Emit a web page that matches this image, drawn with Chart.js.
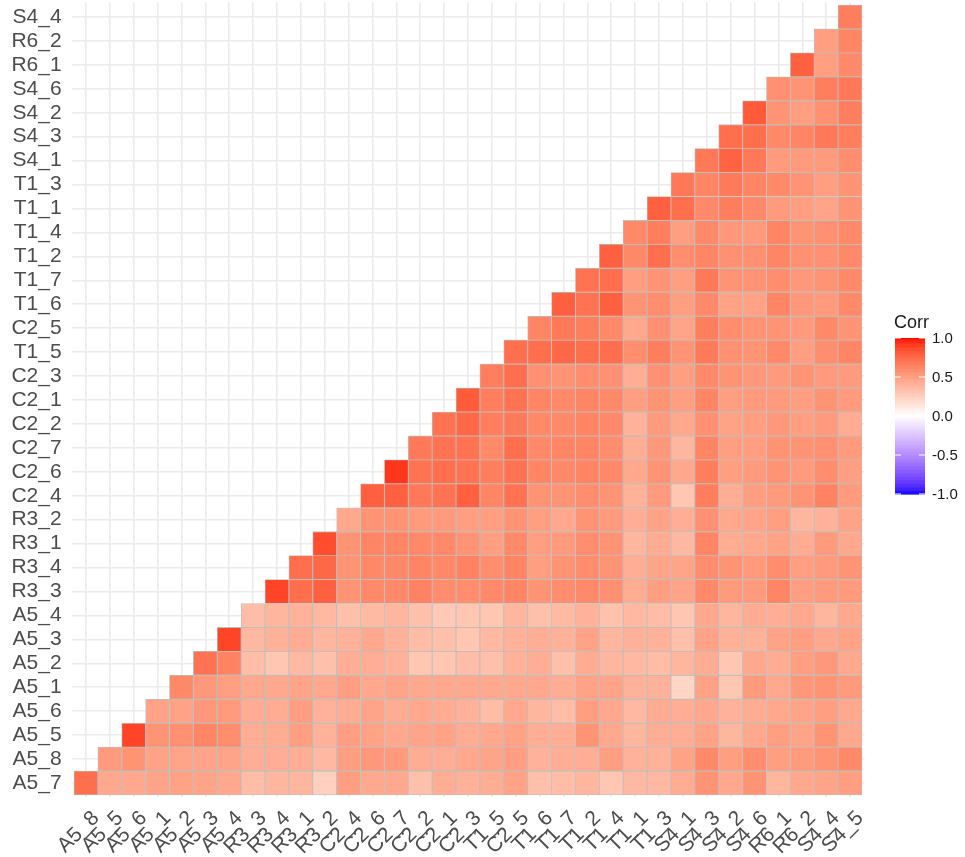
<!DOCTYPE html>
<html>
<head>
<meta charset="utf-8">
<script src="https://cdn.jsdelivr.net/npm/chart.js@4.4.1/dist/chart.umd.min.js"></script>
<style>
  html, body { margin: 0; padding: 0; background: #fff; }
  #wrap { width: 965px; height: 857px; }
</style>
</head>
<body>
<div id="wrap"><canvas id="corr" width="965" height="857"></canvas></div>
<script>
// variable order as plotted (bottom-to-top on y, left-to-right on x)
const vars = ['A5_7', 'A5_8', 'A5_5', 'A5_6', 'A5_1', 'A5_2', 'A5_3', 'A5_4',
  'R3_3', 'R3_4', 'R3_1', 'R3_2', 'C2_4', 'C2_6', 'C2_7', 'C2_2', 'C2_1', 'C2_3',
  'T1_5', 'C2_5', 'T1_6', 'T1_7', 'T1_2', 'T1_4', 'T1_1', 'T1_3',
  'S4_1', 'S4_3', 'S4_2', 'S4_6', 'R6_1', 'R6_2', 'S4_4', 'S4_5'];
const xLabels = vars.slice(1);
const yLabels = vars.slice(0, 33);

// lower triangle: corr[i] holds r(vars[i], vars[j]) for j = i+1 .. 33
const corr = [
  [0.72, 0.45, 0.45, 0.47, 0.48, 0.47, 0.45, 0.35, 0.38, 0.38, 0.25, 0.50, 0.45, 0.45, 0.33, 0.42, 0.40, 0.42, 0.48, 0.33, 0.35, 0.38, 0.30, 0.37, 0.37, 0.43, 0.55, 0.45, 0.55, 0.38, 0.45, 0.47, 0.50],
  [0.52, 0.55, 0.48, 0.47, 0.47, 0.47, 0.42, 0.42, 0.42, 0.37, 0.50, 0.53, 0.52, 0.43, 0.42, 0.45, 0.47, 0.50, 0.40, 0.42, 0.42, 0.50, 0.40, 0.40, 0.48, 0.60, 0.50, 0.58, 0.50, 0.52, 0.55, 0.60],
  [0.88, 0.55, 0.57, 0.62, 0.58, 0.42, 0.43, 0.50, 0.40, 0.50, 0.48, 0.45, 0.47, 0.48, 0.43, 0.45, 0.48, 0.42, 0.42, 0.55, 0.45, 0.38, 0.42, 0.42, 0.48, 0.38, 0.45, 0.50, 0.47, 0.55, 0.45],
  [0.48, 0.48, 0.53, 0.52, 0.43, 0.43, 0.50, 0.40, 0.43, 0.47, 0.43, 0.45, 0.43, 0.40, 0.35, 0.45, 0.38, 0.35, 0.50, 0.45, 0.37, 0.43, 0.42, 0.45, 0.40, 0.43, 0.45, 0.47, 0.50, 0.45],
  [0.60, 0.53, 0.50, 0.45, 0.45, 0.47, 0.45, 0.50, 0.45, 0.47, 0.45, 0.45, 0.45, 0.45, 0.45, 0.45, 0.43, 0.48, 0.47, 0.40, 0.40, 0.22, 0.48, 0.30, 0.52, 0.45, 0.53, 0.55, 0.52],
  [0.70, 0.63, 0.35, 0.30, 0.37, 0.33, 0.42, 0.42, 0.40, 0.30, 0.30, 0.35, 0.33, 0.40, 0.42, 0.33, 0.43, 0.38, 0.37, 0.35, 0.38, 0.43, 0.30, 0.45, 0.43, 0.50, 0.53, 0.45],
  [0.88, 0.37, 0.40, 0.43, 0.38, 0.40, 0.45, 0.40, 0.35, 0.33, 0.30, 0.37, 0.40, 0.42, 0.40, 0.48, 0.38, 0.40, 0.40, 0.33, 0.48, 0.40, 0.40, 0.48, 0.50, 0.45, 0.48],
  [0.35, 0.38, 0.40, 0.37, 0.33, 0.36, 0.38, 0.33, 0.28, 0.30, 0.30, 0.38, 0.33, 0.36, 0.40, 0.32, 0.37, 0.35, 0.30, 0.45, 0.38, 0.43, 0.42, 0.45, 0.38, 0.45],
  [0.88, 0.72, 0.78, 0.55, 0.60, 0.60, 0.63, 0.58, 0.58, 0.60, 0.62, 0.55, 0.58, 0.60, 0.57, 0.43, 0.50, 0.47, 0.60, 0.52, 0.52, 0.62, 0.50, 0.52, 0.52],
  [0.72, 0.75, 0.55, 0.60, 0.60, 0.62, 0.60, 0.63, 0.58, 0.62, 0.50, 0.55, 0.58, 0.55, 0.42, 0.47, 0.47, 0.58, 0.55, 0.52, 0.58, 0.50, 0.52, 0.55],
  [0.85, 0.55, 0.62, 0.62, 0.60, 0.60, 0.55, 0.50, 0.60, 0.50, 0.52, 0.58, 0.55, 0.38, 0.43, 0.37, 0.62, 0.43, 0.45, 0.48, 0.43, 0.52, 0.45],
  [0.45, 0.55, 0.55, 0.52, 0.52, 0.50, 0.50, 0.55, 0.50, 0.45, 0.55, 0.52, 0.42, 0.48, 0.42, 0.57, 0.45, 0.47, 0.50, 0.38, 0.40, 0.48],
  [0.78, 0.78, 0.68, 0.70, 0.78, 0.62, 0.70, 0.55, 0.55, 0.58, 0.55, 0.40, 0.52, 0.30, 0.65, 0.42, 0.50, 0.52, 0.55, 0.63, 0.52],
  [0.92, 0.70, 0.72, 0.70, 0.65, 0.70, 0.62, 0.60, 0.62, 0.60, 0.45, 0.55, 0.45, 0.65, 0.50, 0.52, 0.55, 0.52, 0.58, 0.50],
  [0.68, 0.70, 0.70, 0.60, 0.72, 0.60, 0.62, 0.62, 0.58, 0.42, 0.53, 0.38, 0.62, 0.50, 0.50, 0.55, 0.55, 0.57, 0.52],
  [0.70, 0.75, 0.65, 0.67, 0.60, 0.60, 0.62, 0.60, 0.40, 0.52, 0.45, 0.57, 0.48, 0.50, 0.53, 0.50, 0.52, 0.43],
  [0.80, 0.65, 0.70, 0.62, 0.60, 0.62, 0.60, 0.50, 0.55, 0.50, 0.62, 0.50, 0.52, 0.52, 0.50, 0.55, 0.52],
  [0.65, 0.72, 0.57, 0.55, 0.58, 0.57, 0.42, 0.57, 0.50, 0.60, 0.55, 0.53, 0.52, 0.55, 0.52, 0.52],
  [0.72, 0.72, 0.75, 0.72, 0.72, 0.58, 0.65, 0.55, 0.67, 0.57, 0.55, 0.60, 0.50, 0.58, 0.62],
  [0.62, 0.68, 0.65, 0.60, 0.45, 0.57, 0.47, 0.65, 0.58, 0.55, 0.55, 0.52, 0.60, 0.55],
  [0.78, 0.70, 0.78, 0.55, 0.58, 0.50, 0.60, 0.48, 0.48, 0.62, 0.53, 0.52, 0.60],
  [0.70, 0.72, 0.50, 0.55, 0.50, 0.68, 0.55, 0.55, 0.58, 0.53, 0.55, 0.60],
  [0.78, 0.60, 0.72, 0.58, 0.62, 0.57, 0.57, 0.62, 0.57, 0.57, 0.60],
  [0.60, 0.65, 0.50, 0.60, 0.53, 0.52, 0.62, 0.55, 0.57, 0.60],
  [0.78, 0.72, 0.60, 0.65, 0.60, 0.52, 0.50, 0.47, 0.55],
  [0.68, 0.62, 0.67, 0.62, 0.60, 0.55, 0.50, 0.55],
  [0.68, 0.77, 0.68, 0.52, 0.52, 0.52, 0.58],
  [0.72, 0.72, 0.60, 0.62, 0.68, 0.65],
  [0.80, 0.55, 0.50, 0.57, 0.65],
  [0.57, 0.55, 0.65, 0.68],
  [0.78, 0.50, 0.60],
  [0.50, 0.62],
  [0.65]
];
const legendTicks = [1, 0.5, 0, -0.5, -1];

// blue - white - red gradient, interpolated in Lab like ggplot's scale_fill_gradient2
function toLin(c) { c /= 255; return c <= 0.04045 ? c / 12.92 : Math.pow((c + 0.055) / 1.055, 2.4); }
function toByte(c) {
  c = c <= 0.0031308 ? 12.92 * c : 1.055 * Math.pow(c, 1 / 2.4) - 0.055;
  return Math.round(Math.min(1, Math.max(0, c)) * 255);
}
function rgbToLab(rgb) {
  const [r, g, b] = rgb.map(toLin);
  const x = (0.4124 * r + 0.3576 * g + 0.1805 * b) / 0.95047;
  const y = 0.2126 * r + 0.7152 * g + 0.0722 * b;
  const z = (0.0193 * r + 0.1192 * g + 0.9505 * b) / 1.08883;
  const f = t => t > 0.008856 ? Math.cbrt(t) : 7.787 * t + 16 / 116;
  return [116 * f(y) - 16, 500 * (f(x) - f(y)), 200 * (f(y) - f(z))];
}
function labToCss([L, a, bb]) {
  const fy = (L + 16) / 116, fx = fy + a / 500, fz = fy - bb / 200;
  const inv = t => t * t * t > 0.008856 ? t * t * t : (t - 16 / 116) / 7.787;
  const x = inv(fx) * 0.95047, y = inv(fy), z = inv(fz) * 1.08883;
  const r = 3.2406 * x - 1.5372 * y - 0.4986 * z;
  const g = -0.9689 * x + 1.8758 * y + 0.0415 * z;
  const b = 0.0557 * x - 0.2040 * y + 1.0570 * z;
  return `rgb(${toByte(r)},${toByte(g)},${toByte(b)})`;
}
const labLow = rgbToLab([0, 0, 255]);
const labMid = rgbToLab([255, 255, 255]);
const labHigh = rgbToLab([255, 0, 0]);
function fillFor(v) {
  const end = v >= 0 ? labHigh : labLow;
  const t = Math.min(1, Math.abs(v));
  return labToCss(labMid.map((m, k) => m + (end[k] - m) * t));
}

const points = [];
const colors = [];
corr.forEach((row, i) => {
  row.forEach((v, k) => {
    points.push({ x: i + 1 + k, y: [i - 0.5, i + 0.5] });
    colors.push(fillFor(v));
  });
});

const axisFont = { family: "'Liberation Sans', Arial, sans-serif", size: 21 };

const corrLegend = {
  id: 'corrLegend',
  afterDraw(chart) {
    const ctx = chart.ctx;
    const left = 895, width = 30, top = 338, height = 156;
    const steps = 200;
    ctx.save();
    for (let s = 0; s < steps; s++) {
      const v = 1 - 2 * (s + 0.5) / steps;
      ctx.fillStyle = fillFor(v);
      ctx.fillRect(left, top + s * height / steps, width, height / steps + 0.6);
    }
    ctx.strokeStyle = '#fff';
    ctx.lineWidth = 1;
    ctx.font = "15px 'Liberation Sans', Arial, sans-serif";
    ctx.fillStyle = '#1a1a1a';
    ctx.textBaseline = 'middle';
    ctx.textAlign = 'left';
    legendTicks.forEach(t => {
      const y = top + (1 - t) / 2 * height;
      ctx.beginPath();
      ctx.moveTo(left, y); ctx.lineTo(left + 6, y);
      ctx.moveTo(left + width - 6, y); ctx.lineTo(left + width, y);
      ctx.stroke();
      ctx.fillText(t.toFixed(1), left + width + 7, y + 1);
    });
    ctx.font = "18px 'Liberation Sans', Arial, sans-serif";
    ctx.textBaseline = 'alphabetic';
    ctx.fillText('Corr', 894, 328);
    ctx.restore();
  }
};

new Chart(document.getElementById('corr'), {
  type: 'bar',
  data: {
    datasets: [{
      data: points,
      backgroundColor: colors,
      borderColor: '#bebebe',
      borderWidth: 0.8,
      borderSkipped: false,
      barPercentage: 1,
      categoryPercentage: 1
    }]
  },
  options: {
    responsive: false,
    devicePixelRatio: 1,
    animation: false,
    layout: { padding: { left: 0, right: 100.6, top: 2.6, bottom: 0 } },
    plugins: { legend: { display: false }, tooltip: { enabled: false } },
    scales: {
      x: {
        type: 'linear',
        min: 0.4,
        max: 33.6,
        offset: false,
        grid: { color: '#ebebeb', lineWidth: 1.6, drawTicks: false, offset: false },
        border: { display: false },
        ticks: {
          stepSize: 1,
          includeBounds: false,
          autoSkip: false,
          minRotation: 45,
          maxRotation: 45,
          padding: 8.5,
          labelOffset: 10,
          color: '#4d4d4d',
          font: axisFont,
          callback: v => xLabels[v - 1] || ''
        },
        afterFit: s => { s.height = 59.6; s.paddingLeft = 0; s.paddingRight = 0; }
      },
      y: {
        type: 'linear',
        min: -0.6,
        max: 32.6,
        grid: { color: '#ebebeb', lineWidth: 1.6, drawTicks: false },
        border: { display: false },
        ticks: {
          stepSize: 1,
          includeBounds: false,
          autoSkip: false,
          padding: 10,
          color: '#4d4d4d',
          font: axisFont,
          callback: v => yLabels[v] || ''
        },
        afterFit: s => { s.width = 71.6; s.paddingTop = 0; s.paddingBottom = 0; }
      }
    }
  },
  plugins: [corrLegend]
});
</script>
</body>
</html>
